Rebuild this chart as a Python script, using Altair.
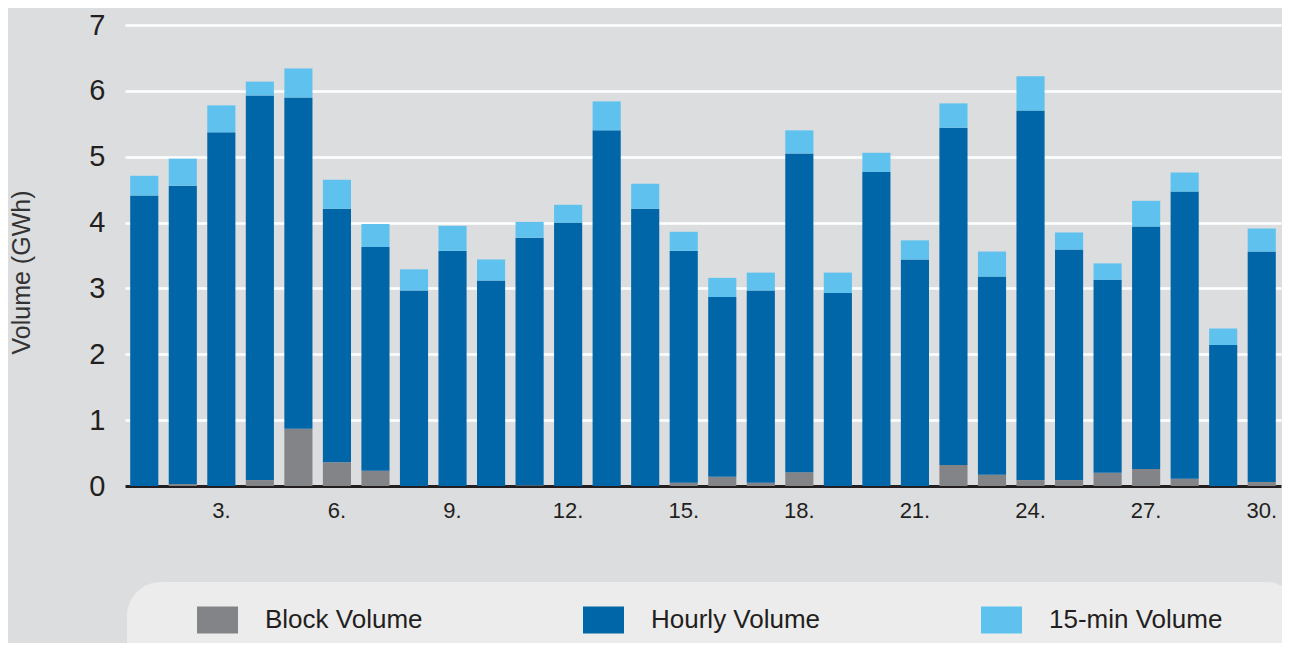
import altair as alt
import pandas as pd

days = list(range(1, 31))
block = [0, 0.03, 0, 0.09, 0.87, 0.36, 0.23, 0, 0, 0,
         0.01, 0, 0, 0, 0.05, 0.14, 0.05, 0.21, 0, 0,
         0, 0.32, 0.17, 0.09, 0.09, 0.20, 0.26, 0.11, 0, 0.06]
hourly = [4.41, 4.53, 5.37, 5.84, 5.03, 3.85, 3.40, 2.97, 3.57, 3.12,
          3.76, 4.00, 5.40, 4.21, 3.52, 2.73, 2.92, 4.84, 2.93, 4.77,
          3.44, 5.12, 3.01, 5.61, 3.50, 2.93, 3.68, 4.36, 2.14, 3.50]
fifteen = [0.30, 0.41, 0.41, 0.21, 0.44, 0.44, 0.35, 0.32, 0.38, 0.32,
           0.24, 0.27, 0.44, 0.38, 0.29, 0.29, 0.27, 0.35, 0.31, 0.29,
           0.29, 0.37, 0.38, 0.52, 0.26, 0.25, 0.39, 0.29, 0.25, 0.35]
series = ["Block Volume", "Hourly Volume", "15-min Volume"]
colors = ["#838488", "#0066a8", "#5fc2ee"]

rows = []
for i, d in enumerate(days):
    for k, (name, vals) in enumerate(zip(series, [block, hourly, fifteen])):
        rows.append({"day": d, "series": name, "value": vals[i], "order": k})
df = pd.DataFrame(rows)

FONT = "Liberation Sans"

box = alt.Chart(pd.DataFrame({"box": [0]})).mark_rect(
    color="#ececec", cornerRadius=34
).encode(
    x=alt.value(2), x2=alt.value(1175), y=alt.value(557), y2=alt.value(690)
)

bars = alt.Chart(df).mark_bar().encode(
    x=alt.X("day:O",
            scale=alt.Scale(domain=days, paddingInner=0.27, paddingOuter=0.135),
            axis=alt.Axis(title=None, labelAngle=0, ticks=False, grid=False,
                          labelExpr="datum.value % 3 == 0 ? datum.value + '.' : ''",
                          labelFontSize=22, labelColor="#231f20", labelPadding=14,
                          domainColor="#231f20", domainWidth=3, labelFont=FONT)),
    y=alt.Y("value:Q", stack="zero",
            scale=alt.Scale(domain=[0, 7], nice=False),
            axis=alt.Axis(title="Volume (GWh)", values=[0, 1, 2, 3, 4, 5, 6, 7],
                          ticks=False, domain=False, grid=True,
                          gridColor="#ffffff", gridWidth=2.5,
                          labelFontSize=29, labelColor="#231f20", labelPadding=20,
                          labelFont=FONT, titleFont=FONT, titleFontSize=25,
                          titleFontWeight="normal", titleColor="#333333",
                          titleX=-91, titleY=247, titleBaseline="bottom")),
    color=alt.Color("series:N",
                    scale=alt.Scale(domain=series, range=colors),
                    legend=alt.Legend(title=None, orient="none", legendX=72, legendY=574,
                                      direction="horizontal", columns=3,
                                      symbolType="M-1,-0.66H1V0.66H-1Z", symbolSize=1681,
                                      symbolStrokeWidth=0, symbolOpacity=1,
                                      labelFontSize=26, labelFont=FONT, labelColor="#231f20",
                                      labelOffset=27, columnPadding=160, labelLimit=400)),
    order=alt.Order("order:Q", sort="ascending"),
)

chart = alt.layer(box, bars).properties(
    width=1156, height=461,
    autosize=alt.AutoSizeParams(type="none"),
    padding={"left": 117, "top": 17, "right": 1, "bottom": 157},
    background="#dcdddf",
).configure_view(stroke=None)

chart.save("out.html", embed_options={"renderer": "svg", "actions": False})
